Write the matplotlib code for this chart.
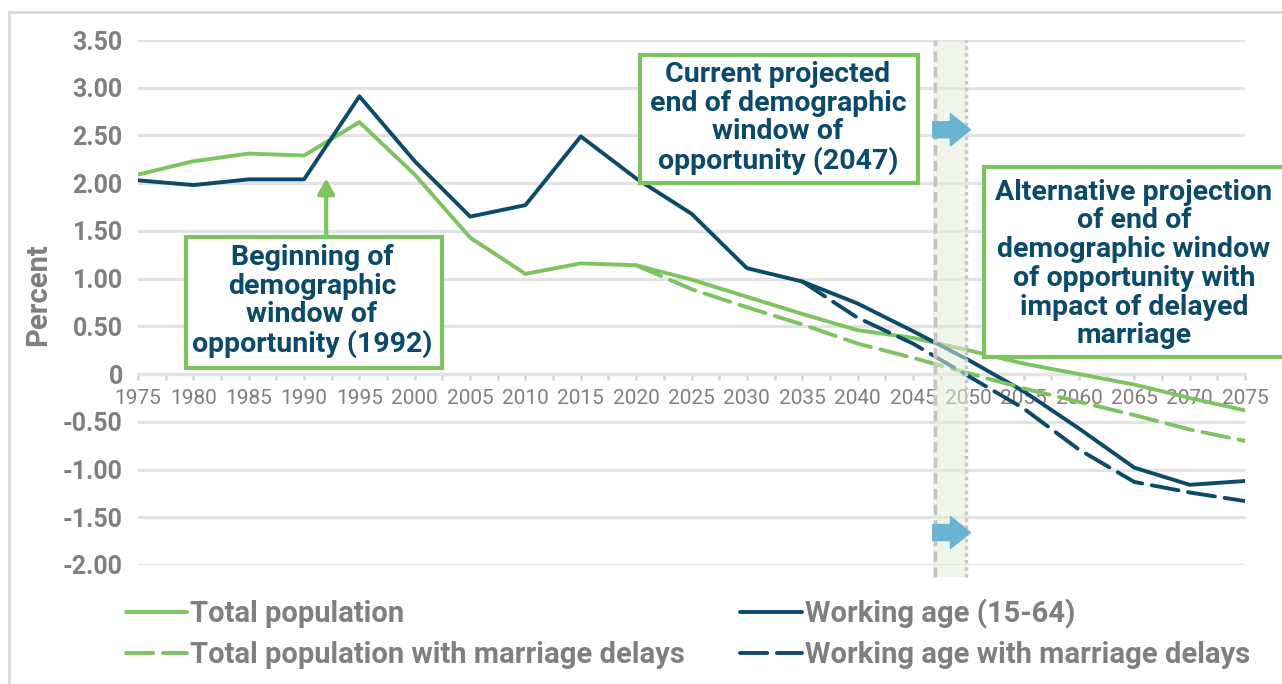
import numpy as np
import matplotlib.pyplot as plt
from matplotlib.patches import Rectangle, FancyArrowPatch

plt.rcParams['font.family'] = ['Roboto', 'DejaVu Sans']

# data (percent growth)
years = [1975, 1980, 1985, 1990, 1995, 2000, 2005, 2010, 2015, 2020, 2025,
         2030, 2035, 2040, 2045, 2050, 2055, 2060, 2065, 2070, 2075]
total_pop = [2.09, 2.23, 2.31, 2.29, 2.64, 2.09, 1.43, 1.05, 1.16, 1.14, 0.99,
             0.81, 0.63, 0.46, 0.38, 0.25, 0.11, 0.00, -0.11, -0.25, -0.38]
total_pop_delay = [np.nan] * 9 + [1.14, 0.89, 0.70, 0.52, 0.32, 0.17,
                                  0.01, -0.15, -0.29, -0.43, -0.58, -0.70]
working_age = [2.03, 1.98, 2.04, 2.04, 2.91, 2.23, 1.65, 1.77, 2.49, 2.05, 1.68,
               1.11, 0.97, 0.74, 0.45, 0.15, -0.18, -0.57, -0.98, -1.16, -1.12]
working_age_delay = [np.nan] * 12 + [0.97, 0.59, 0.32, -0.02, -0.36,
                                     -0.79, -1.13, -1.24, -1.33]
series_labels = ['Total population', 'Total population with marriage delays',
                 'Working age (15-64)', 'Working age with marriage delays']
y_ticks = [3.5, 3.0, 2.5, 2.0, 1.5, 1.0, 0.5, 0, -0.5, -1.0, -1.5, -2.0]
y_tick_labels = ['3.50', '3.00', '2.50', '2.00', '1.50', '1.00', '0.50', '0',
                 '-0.50', '-1.00', '-1.50', '-2.00']

GREEN = '#7DC35F'
NAVY = '#0C4A6A'
GRAY = '#7F7F7F'
GRID = '#E3E3E3'
BLUE = '#6AB4D3'

W, H = 1282, 684


def fx(px):
    return px / W


def fy(py):
    return 1 - py / H


fig = plt.figure(figsize=(12.82, 6.84), dpi=100)
ax = fig.add_axes([fx(138), fy(565), fx(1245) - fx(138), fy(40) - fy(565)])

lw = 2.8
l1, = ax.plot(years, total_pop, color=GREEN, lw=lw, solid_capstyle='round', zorder=3)
l3, = ax.plot(years, working_age, color=NAVY, lw=lw, solid_capstyle='round', zorder=3)
l2, = ax.plot(years, total_pop_delay, color=GREEN, lw=lw, dashes=(7, 2.5),
              dash_capstyle='round', zorder=3)
l4, = ax.plot(years, working_age_delay, color=NAVY, lw=lw, dashes=(7, 2.5),
              dash_capstyle='round', zorder=3)

ax.set_xlim(1975, 2075)
ax.set_ylim(-2.0, 3.5)
ax.set_yticks(y_ticks)
ax.set_yticklabels(y_tick_labels, fontweight='bold')
ax.tick_params(axis='y', length=0, pad=11, labelsize=18, labelcolor=GRAY)
ax.set_xticks(years)
ax.set_xticks([y + 2.5 for y in years[:-1]] + [1975, 2075], minor=True)
ax.set_xticklabels([str(y) for y in years])
ax.tick_params(axis='x', which='both', length=4, width=2, color='#D9D9D9', pad=7,
               labelsize=15, labelcolor=GRAY)
ax.yaxis.grid(True, color=GRID, lw=2.3)
ax.set_axisbelow(True)
for s in ['left', 'right', 'top']:
    ax.spines[s].set_visible(False)
ax.spines['bottom'].set_position(('data', 0))
ax.spines['bottom'].set_color(GRID)
ax.spines['bottom'].set_linewidth(2.3)

# window of opportunity band
ax.add_patch(Rectangle((2046.8, -2.13), 3.1, 5.63, facecolor='#E2EDDA', alpha=0.55,
                       edgecolor='none', clip_on=False, zorder=4))
ax.plot([2047, 2047], [-2.13, 3.5], color='#C4C4C4', lw=2.5, dashes=(3, 1.5),
        clip_on=False, zorder=4.5)
ax.plot([2049.8, 2049.8], [-2.13, 3.5], color='#C8C8C8', lw=2.5, dashes=(1, 1),
        clip_on=False, zorder=4.5)

for yv in [2.56, -1.66]:
    ax.add_patch(FancyArrowPatch((2046.8, yv), (2050.2, yv),
                                 arrowstyle='simple,head_length=1.0,head_width=1.6,tail_width=0.8',
                                 mutation_scale=14.4, color=BLUE, shrinkA=0, shrinkB=0,
                                 clip_on=False, zorder=6))

ax.annotate('', xy=(1992, 2.05), xytext=(1992, 1.44),
            arrowprops=dict(arrowstyle='-|>,head_length=0.9,head_width=0.5',
                            color=GREEN, lw=3, shrinkA=0, shrinkB=0))


def note_box(x0, y0, x1, y1, text, cx, cy):
    fig.add_artist(Rectangle((fx(x0), fy(y1)), fx(x1) - fx(x0), fy(y0) - fy(y1),
                             transform=fig.transFigure, facecolor='white',
                             edgecolor=GREEN, lw=3, zorder=5))
    fig.text(fx(cx), fy(cy), text, ha='center', va='center', color=NAVY,
             fontsize=20.5, fontweight='bold', linespacing=1.08, zorder=6)


note_box(186, 237, 442, 368,
         'Beginning of\ndemographic\nwindow of\nopportunity (1992)', 312, 301)
note_box(640, 55, 918, 183,
         'Current projected\nend of demographic\nwindow of\nopportunity (2047)', 778, 118)
note_box(984, 167, 1300, 357,
         'Alternative projection\nof end of\ndemographic window\nof opportunity with\n'
         'impact of delayed\nmarriage', 1134, 264)

fig.text(fx(38), fy(295), 'Percent', rotation=90, ha='center', va='center',
         fontsize=21, fontweight='bold', color=GRAY)

ax.legend([l1, l2, l3, l4], series_labels, ncol=2, loc='upper left',
          bbox_to_anchor=(fx(126), fy(599)), bbox_transform=fig.transFigure,
          frameon=False, prop=dict(weight='bold', size=21), labelcolor=GRAY,
          handlelength=2.1, handletextpad=0.1, columnspacing=1.9,
          labelspacing=0.42, borderpad=0, borderaxespad=0)

# chart frame
fig.add_artist(Rectangle((fx(9), -0.05), 1.1, fy(12) + 0.05, transform=fig.transFigure,
                         fill=False, edgecolor='#D9D9D9', lw=2, zorder=0))

fig.savefig('out.png', dpi=100)
